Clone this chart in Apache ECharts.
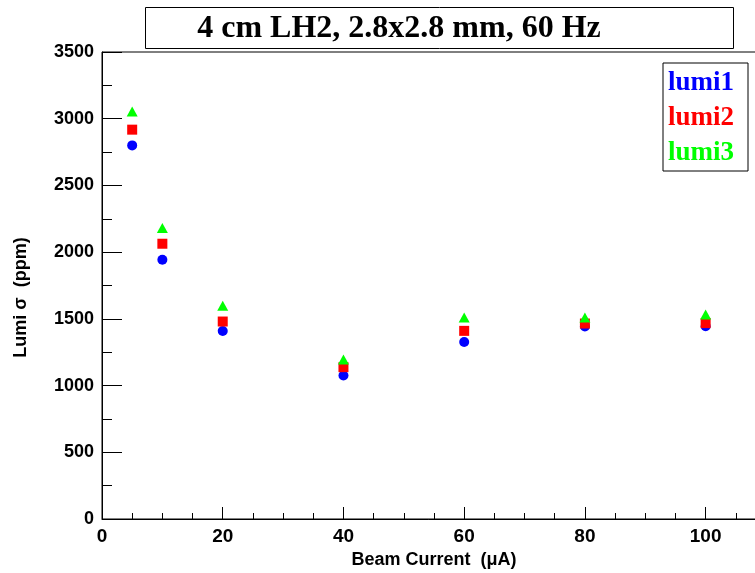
<!DOCTYPE html>
<html>
<head>
<meta charset="utf-8">
<script src="https://cdn.jsdelivr.net/npm/echarts@6/dist/echarts.min.js"></script>
<style>
  html, body { margin: 0; padding: 0; background: #fff; }
  #chart { width: 755px; height: 573px; }
</style>
</head>
<body>
<div id="chart"></div>
<script>
// beam current (uA)
const currents = [5, 10, 20, 40, 60, 80, 100];
// lumi sigma (ppm)
const lumi1 = [2800, 1943, 1409, 1075, 1326, 1443, 1445];
const lumi2 = [2918, 2063, 1480, 1138, 1410, 1465, 1468];
const lumi3 = [3055, 2181, 1599, 1195, 1510, 1510, 1533];

const pairs = (ys) => currents.map((x, i) => [x, ys[i]]);

let chart = echarts.init(document.getElementById("chart"));
chart.setOption({
  animation: false,
  grid: {
    left: 102,
    top: 52,
    width: 664,
    height: 467,
    outerBoundsMode: "none",
    containLabel: false,
    show: true,
    borderColor: "#000",
    borderWidth: 1
  },
  graphic: [
    {
      type: "rect",
      shape: { x: 145.5, y: 7.5, width: 588, height: 41 },
      style: { fill: "#fff", stroke: "#000", lineWidth: 1 }
    },
    {
      type: "text",
      x: 399,
      y: 29,
      style: {
        text: "4 cm LH2, 2.8x2.8 mm, 60 Hz",
        font: "bold 32px 'Liberation Serif'",
        fill: "#000",
        align: "center",
        verticalAlign: "middle"
      }
    }
  ],
  legend: {
    orient: "vertical",
    left: 663,
    top: 63,
    icon: "none",
    itemWidth: 0,
    itemHeight: 14,
    itemGap: 0,
    padding: [3, 14, 0, 0],
    borderColor: "#000",
    borderWidth: 1,
    backgroundColor: "#fff",
    textStyle: {
      fontFamily: "Liberation Serif",
      fontWeight: "bold",
      fontSize: 27,
      lineHeight: 35
    },
    data: [
      { name: "lumi1", textStyle: { color: "#0000ff" } },
      { name: "lumi2", textStyle: { color: "#ff0000" } },
      { name: "lumi3", textStyle: { color: "#00ff00" } }
    ]
  },
  xAxis: {
    type: "value",
    min: 0,
    max: 110,
    interval: 20,
    name: "Beam Current  (\u03bcA)",
    nameLocation: "middle",
    nameGap: 27,
    nameTextStyle: { fontFamily: "Liberation Sans", fontWeight: "bold", fontSize: 18, color: "#000", verticalAlign: "top" },
    axisLine: { onZero: false, lineStyle: { color: "#000", width: 1 } },
    axisTick: { inside: true, length: 12, lineStyle: { color: "#000" } },
    minorTick: { show: true, splitNumber: 4, length: 6, lineStyle: { color: "#000" } },
    splitLine: { show: false },
    axisLabel: {
      margin: 8,
      color: "#000",
      fontFamily: "Liberation Sans",
      fontWeight: "bold",
      fontSize: 19,
      showMaxLabel: false,
      formatter: (v) => String(v)
    }
  },
  yAxis: {
    type: "value",
    min: 0,
    max: 3500,
    interval: 500,
    name: "Lumi \u03c3  (ppm)",
    nameLocation: "middle",
    nameGap: 72,
    nameTextStyle: { fontFamily: "Liberation Sans", fontWeight: "bold", fontSize: 18, color: "#000", padding: [0, 0, 0, -24] },
    axisLine: { onZero: false, lineStyle: { color: "#000", width: 1 } },
    axisTick: { inside: true, length: 20, lineStyle: { color: "#000" } },
    minorTick: { show: true, splitNumber: 2, length: 10, lineStyle: { color: "#000" } },
    splitLine: { show: false },
    axisLabel: {
      margin: 8,
      color: "#000",
      fontFamily: "Liberation Sans",
      fontWeight: "bold",
      fontSize: 18,
      formatter: (v) => String(v)
    }
  },
  series: [
    {
      name: "lumi1",
      type: "scatter",
      symbol: "circle",
      symbolSize: 10,
      itemStyle: { color: "#0000ff", opacity: 1 },
      data: pairs(lumi1)
    },
    {
      name: "lumi2",
      type: "scatter",
      symbol: "rect",
      symbolSize: 10,
      itemStyle: { color: "#ff0000", opacity: 1 },
      data: pairs(lumi2)
    },
    {
      name: "lumi3",
      type: "scatter",
      symbol: "triangle",
      symbolSize: [11, 10],
      itemStyle: { color: "#00ff00", opacity: 1 },
      data: pairs(lumi3)
    }
  ]
});
</script>
</body>
</html>
